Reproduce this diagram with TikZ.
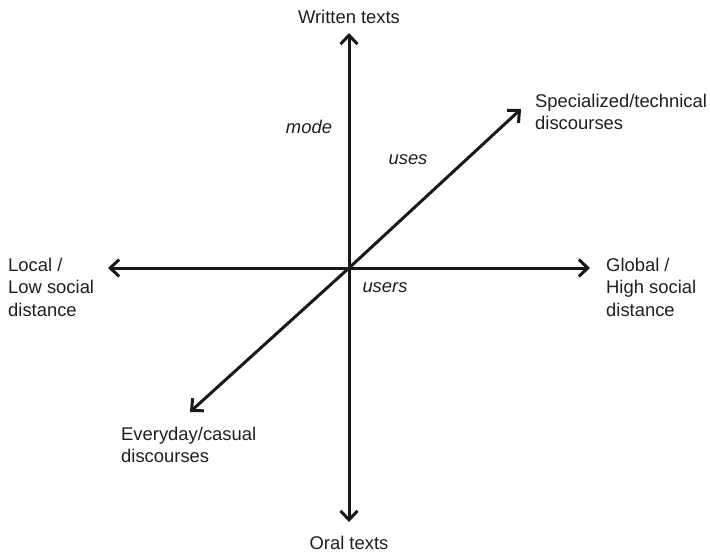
\documentclass[tikz,border=0pt]{standalone}
\usepackage{fontspec}
\setmainfont{Liberation Sans}
\usetikzlibrary{arrows.meta}

\begin{document}
\begin{tikzpicture}[x=1pt,y=-1pt,
    axis/.style={line width=3pt,draw=black!90,-{Straight Barb[length=9pt,width=17pt]}},
    lbl/.style={font=\fontsize{18.4}{22.5}\selectfont,text=black!88,inner sep=0pt,align=left},
    dim/.style={font=\fontsize{18.4}{22.5}\selectfont\itshape,text=black!88,inner sep=0pt}]
      \useasboundingbox (0,0) rectangle (710,552);
      \coordinate (o) at (349,268);
      \coordinate (top) at (349,33);
      \coordinate (bot) at (349,522);
      \coordinate (lft) at (108,268);
      \coordinate (rgt) at (590,268);
      \coordinate (ne) at (521,109);
      \coordinate (sw) at (190,412);
      \draw[axis] (o) -- (top);
      \draw[axis] (o) -- (bot);
      \draw[axis] (o) -- (lft);
      \draw[axis] (o) -- (rgt);
      \draw[axis] (o) -- (ne);
      \draw[axis] (o) -- (sw);
      \node[lbl,anchor=base] (written) at (349,23) {Written texts};
      \node[lbl,anchor=base] (oral) at (349,549) {Oral texts};
      \node[lbl,anchor=west] (local) at (8,287) {Local /\\Low social\\distance};
      \node[lbl,anchor=west] (global) at (606,287) {Global /\\High social\\distance};
      \node[lbl,anchor=west] (special) at (535,112) {Specialized/technical\\discourses};
      \node[lbl,anchor=west] (everyday) at (121,445) {Everyday/casual\\discourses};
      \node[dim] (mode) at (309,127) {mode};
      \node[dim] (uses) at (408,160) {uses};
      \node[dim] (users) at (385,288) {users};
\end{tikzpicture}
\end{document}
